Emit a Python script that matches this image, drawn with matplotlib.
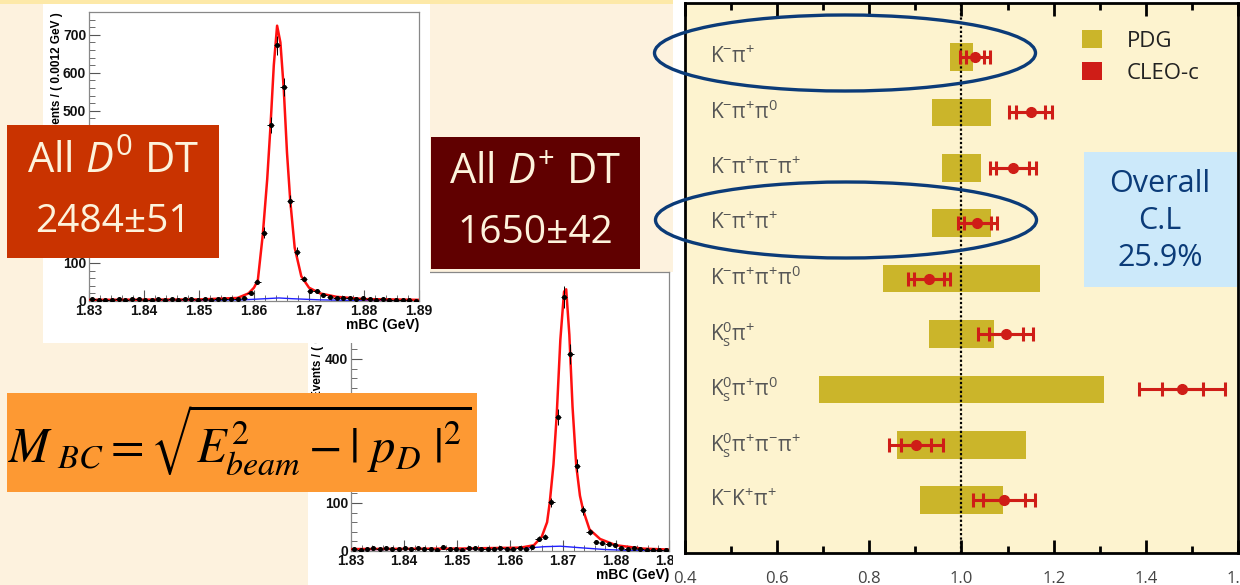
import matplotlib
matplotlib.use("Agg")
import matplotlib.pyplot as plt
import numpy as np
from matplotlib.patches import Rectangle, Ellipse, Patch
from matplotlib.ticker import MultipleLocator

W, H = 1240, 585

plt.rcParams['font.family'] = ['Open Sans', 'DejaVu Sans']
plt.rcParams['mathtext.fontset'] = 'custom'
plt.rcParams['mathtext.rm'] = 'Open Sans'
plt.rcParams['mathtext.it'] = 'Open Sans:italic'

# ---- branching fraction comparison (ratio to PDG) ----
modes = ['K$^{-}$π$^{+}$', 'K$^{-}$π$^{+}$π$^{0}$', 'K$^{-}$π$^{+}$π$^{-}$π$^{+}$',
         'K$^{-}$π$^{+}$π$^{+}$', 'K$^{-}$π$^{+}$π$^{+}$π$^{0}$',
         'K$^{0}_{\\mathrm{s}}$π$^{+}$', 'K$^{0}_{\\mathrm{s}}$π$^{+}$π$^{0}$',
         'K$^{0}_{\\mathrm{s}}$π$^{+}$π$^{-}$π$^{+}$', 'K$^{-}$K$^{+}$π$^{+}$']
pdg_val = [1.0, 1.0, 1.0, 1.0, 1.0, 1.0, 1.0, 1.0, 1.0]
pdg_err = [0.024, 0.063, 0.042, 0.065, 0.170, 0.071, 0.310, 0.141, 0.090]
cleo_val = [1.029, 1.150, 1.111, 1.034, 0.929, 1.096, 1.479, 0.901, 1.092]
cleo_stat = [0.020, 0.031, 0.036, 0.029, 0.033, 0.037, 0.045, 0.032, 0.046]
cleo_tot = [0.032, 0.046, 0.050, 0.042, 0.046, 0.060, 0.093, 0.058, 0.068]
ratio_ticks = [0.4, 0.6, 0.8, 1.0, 1.2, 1.4, 1.6]

# ---- mBC histograms (0.0012 GeV bins from 1.83 to 1.89) ----
BIN_LO, BIN_W = 1.83, 0.0012
d0_counts = [4, 3, 3, 2, 4, 3, 4, 5, 3, 3, 4, 3, 4, 3, 4, 5, 3, 4, 3, 5, 4, 6, 5, 8,
             22, 51, 180, 463, 672, 562, 263, 130, 59, 27, 27, 15, 10, 8, 9, 9,
             5, 9, 4, 3, 4, 2, 3, 2, 2, 1]
dp_counts = [4, 3, 5, 6, 4, 7, 5, 4, 6, 5, 7, 4, 5, 3, 8, 4, 5, 3, 6, 7, 5, 4, 5, 6,
             4, 5, 6, 5, 8, 26, 30, 101, 280, 528, 410, 178, 85, 40, 18, 17, 14,
             12, 6, 4, 7, 4, 3, 3, 2, 2]
d0_fit_x = [1.830, 1.850, 1.857, 1.859, 1.860, 1.8607, 1.8616, 1.8624, 1.863, 1.8636,
            1.8642, 1.8648, 1.8654, 1.866, 1.8666, 1.8674, 1.8686, 1.870, 1.872,
            1.875, 1.880, 1.890]
d0_fit_y = [3, 4, 8, 20, 35, 55, 175, 320, 460, 620, 724, 680, 560, 390, 262, 140,
            65, 35, 20, 11, 5, 3]
d0_bkg_x = [1.830, 1.850, 1.858, 1.862, 1.8645, 1.867, 1.872, 1.880, 1.890]
d0_bkg_y = [2, 2, 3, 6, 8, 6, 3, 1, 1]
dp_fit_x = [1.830, 1.850, 1.862, 1.8645, 1.866, 1.867, 1.8675, 1.8682, 1.8688, 1.8695,
            1.8702, 1.8706, 1.8712, 1.8718, 1.8725, 1.8732, 1.8738, 1.875, 1.877,
            1.880, 1.885, 1.890]
dp_fit_y = [4, 5, 7, 12, 30, 60, 101, 180, 280, 440, 540, 545, 450, 300, 178, 115,
            85, 45, 25, 12, 5, 3]
dp_bkg_x = [1.830, 1.855, 1.863, 1.8665, 1.8695, 1.873, 1.878, 1.883, 1.890]
dp_bkg_y = [3, 4, 6, 9, 10, 7, 3, 1, 1]
mbc_ticks = [1.83, 1.84, 1.85, 1.86, 1.87, 1.88, 1.89]
d0_yticks = [0, 100, 200, 300, 400, 500, 600, 700]
dp_yticks = [0, 100, 200, 300, 400, 500]

CREAM = '#fdf2de'
GOLD = '#cbb52a'
RED = '#cf1d17'
NAVY = '#0b3b78'


def fig_box(x0, y0, x1, y1):
    """Pixel box (top-left origin) -> figure fraction [l, b, w, h]."""
    return [x0 / W, 1 - y1 / H, (x1 - x0) / W, (y1 - y0) / H]


def add_rect(fig, x0, y0, x1, y1, color, z):
    l, b, w, h = fig_box(x0, y0, x1, y1)
    fig.add_artist(Rectangle((l, b), w, h, transform=fig.transFigure,
                             facecolor=color, edgecolor='none', zorder=z))


def draw_histogram(ax, counts, fit_x, fit_y, bkg_x, bkg_y, ymax, yticks):
    centers = BIN_LO + BIN_W * (np.arange(len(counts)) + 0.5)
    counts = np.array(counts)
    ax.plot(bkg_x, bkg_y, color='#1f1fff', lw=1.0, zorder=2)
    ax.plot(fit_x, fit_y, color='#ff1010', lw=1.8, zorder=3)
    # Poisson errors on the binned counts
    ax.errorbar(centers, counts, yerr=np.sqrt(counts), xerr=BIN_W / 2, fmt='o',
                ms=2.6, color='black', elinewidth=0.7, capsize=0, zorder=4)
    ax.set_xlim(1.83, 1.89)
    ax.set_ylim(0, ymax)
    ax.set_facecolor('white')
    ax.set_xticks(mbc_ticks, labels=[f'{v:.2f}' for v in mbc_ticks],
                  fontweight='bold', fontfamily='Liberation Sans', fontsize=10)
    ax.set_yticks(yticks, labels=[str(v) for v in yticks],
                  fontweight='bold', fontfamily='Liberation Sans', fontsize=10)
    ax.xaxis.set_minor_locator(MultipleLocator(0.002))
    ax.yaxis.set_minor_locator(MultipleLocator(20))
    ax.tick_params(which='both', direction='in', top=False, right=False,
                   color='#555555', pad=2, labelcolor='#111111')
    ax.tick_params(which='major', length=8, width=0.8)
    ax.tick_params(which='minor', length=4, width=0.6)
    for sp in ax.spines.values():
        sp.set_color('#888888')
        sp.set_linewidth(0.9)
    ax.set_xlabel('mBC (GeV)', loc='right', fontweight='bold',
                  fontfamily='Liberation Sans', fontsize=10, labelpad=0)
    ax.set_ylabel('Events / ( 0.0012 GeV )', loc='top', fontweight='bold',
                  fontfamily='Liberation Sans', fontsize=8.5)


fig = plt.figure(figsize=(W / 100, H / 100), dpi=100, facecolor=CREAM)

# slide furniture
add_rect(fig, 0, 0, 685, 4, '#fde9a8', 0.1)
add_rect(fig, 308, 272, 673, 585, 'white', 0.2)
add_rect(fig, 43, 4, 430, 343, 'white', 0.4)
add_rect(fig, 673, 0, 1240, 585, 'white', 0.6)

# D+ histogram (lower)
ax_dp = fig.add_axes(fig_box(351, 272, 669, 551))
ax_dp.set_zorder(0.3)
draw_histogram(ax_dp, dp_counts, dp_fit_x, dp_fit_y, dp_bkg_x, dp_bkg_y, 581, dp_yticks)
ax_dp.yaxis.set_label_coords(-0.085, 1.0)

# D0 histogram (upper)
ax_d0 = fig.add_axes(fig_box(89, 12, 419, 301))
ax_d0.set_zorder(0.5)
draw_histogram(ax_d0, d0_counts, d0_fit_x, d0_fit_y, d0_bkg_x, d0_bkg_y, 760, d0_yticks)
ax_d0.yaxis.set_label_coords(-0.08, 1.0)

# comparison chart
ax = fig.add_axes(fig_box(685, 3, 1238, 553))
ax.set_zorder(0.7)
ax.set_facecolor('#fdf3cf')
rows = np.arange(len(modes))
ax.barh(rows, [2 * e for e in pdg_err], left=[v - e for v, e in zip(pdg_val, pdg_err)],
        height=0.5, color=GOLD, zorder=1)
ax.axvline(1.0, color='black', ls=(0, (1, 1)), lw=1.6, zorder=2)
ax.errorbar(cleo_val, rows, xerr=cleo_tot, fmt='none', ecolor=RED,
            elinewidth=2.2, capsize=4.7, capthick=2.2, zorder=3)
ax.errorbar(cleo_val, rows, xerr=cleo_stat, fmt='o', color=RED, ms=7,
            elinewidth=2.2, capsize=4.7, capthick=2.2, zorder=4)
for r, m in zip(rows, modes):
    ax.text(0.045, r, m, transform=ax.get_yaxis_transform(), ha='left', va='center',
            fontsize=15, color='#555555')
ax.set_xlim(0.4, 1.6)
ax.set_ylim(8.953, -0.975)
ax.set_xticks(ratio_ticks, labels=[f'{v:.1f}' for v in ratio_ticks])
ax.xaxis.set_minor_locator(MultipleLocator(0.1))
ax.set_yticks([])
ax.tick_params(axis='x', which='both', direction='in', top=True, bottom=True,
               width=2, labelsize=12, labelcolor='#444444', pad=13)
ax.tick_params(axis='x', which='major', length=9.5)
ax.tick_params(axis='x', which='minor', length=5)
for sp in ax.spines.values():
    sp.set_linewidth(2)
ax.legend(handles=[Patch(facecolor=GOLD, label='PDG'), Patch(facecolor=RED, label='CLEO-c')],
          loc='upper left', bbox_to_anchor=(0.718, 0.951), frameon=False,
          borderpad=0, borderaxespad=0, handlelength=0.9, handleheight=0.9,
          handletextpad=1.1, labelspacing=0.45, fontsize=16, labelcolor='#222222')

# overlay boxes and annotations
add_rect(fig, 7, 125, 219, 258, '#c93300', 2)
add_rect(fig, 431, 137, 640, 269, '#600000', 2)
add_rect(fig, 7, 393, 477, 492, '#fd9933', 2)
add_rect(fig, 1084, 152, 1237, 287, '#cce9fa', 2)

txt = dict(color='#fdf3dc', ha='center', va='center', zorder=3)
fig.text(113 / W, 1 - 162 / H, 'All $D^{0}$ DT', fontsize=30, **txt)
fig.text(113 / W, 1 - 222 / H, '2484±51', fontsize=28, **txt)
fig.text(535.5 / W, 1 - 173 / H, 'All $D^{+}$ DT', fontsize=30, **txt)
fig.text(535.5 / W, 1 - 233 / H, '1650±42', fontsize=28, **txt)
fig.text(1160 / W, 1 - 221 / H, 'Overall\nC.L\n25.9%', color=NAVY, fontsize=22,
         ha='center', va='center', linespacing=1.3, zorder=3)
fig.text(240 / W, 1 - 440 / H, r'$M_{\ BC} = \sqrt{E^{2}_{beam} - |\ p_{D}\ |^{2}}$',
         math_fontfamily='stix', fontsize=35, ha='center', va='center', color='black',
         zorder=3)

for cx, cy in [(845, 53), (846, 220)]:
    fig.add_artist(Ellipse((cx / W, 1 - cy / H), 381 / W, 76 / H, transform=fig.transFigure,
                           fill=False, edgecolor=NAVY, lw=2.4, zorder=4))

fig.savefig('out.png', dpi=100, facecolor=CREAM)
